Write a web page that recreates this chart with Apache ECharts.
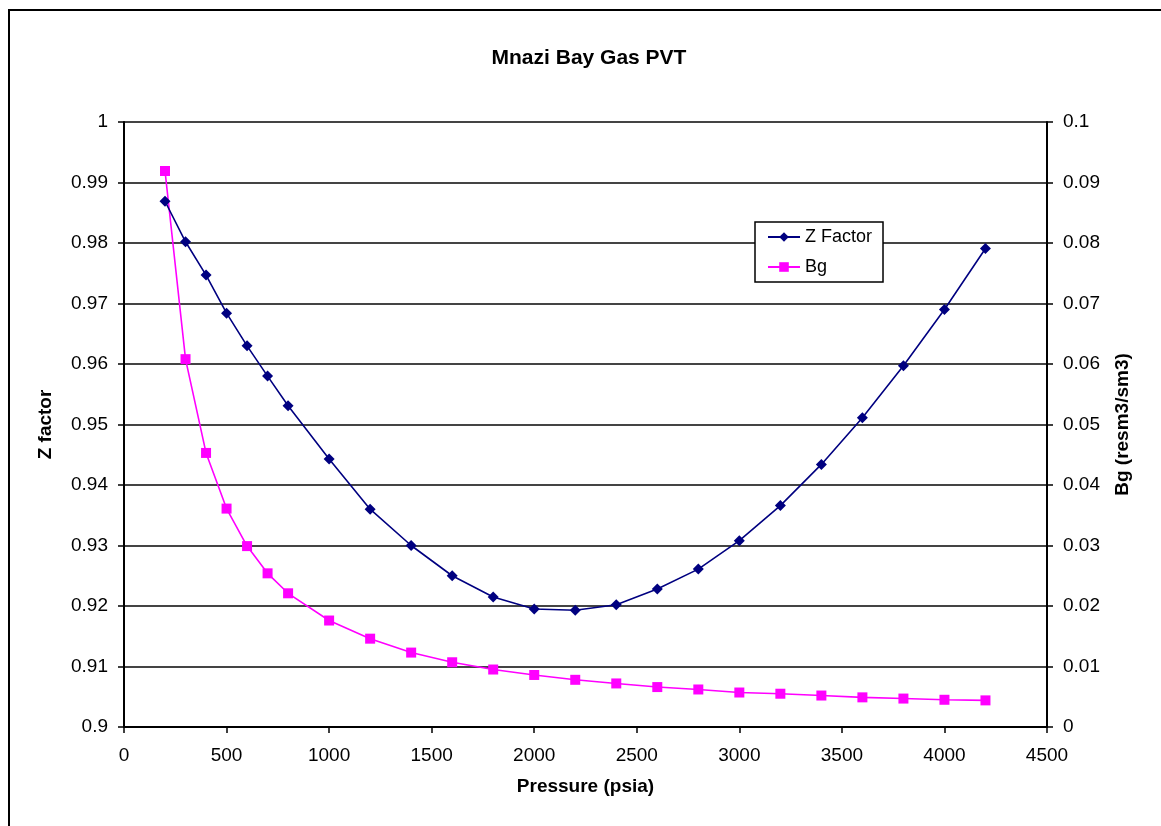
<!DOCTYPE html>
<html>
<head>
<meta charset="utf-8">
<title>Mnazi Bay Gas PVT</title>
<script src="https://cdn.jsdelivr.net/npm/echarts@6/dist/echarts.min.js"></script>
<style>
  html, body { margin: 0; padding: 0; background: #fff; }
  #chart { width: 1161px; height: 826px; }
</style>
</head>
<body>
<div id="chart"></div>
<script>
// Pressure steps (psia)
var pressure = [200, 300, 400, 500, 600, 700, 800, 1000, 1200, 1400, 1600, 1800,
                2000, 2200, 2400, 2600, 2800, 3000, 3200, 3400, 3600, 3800, 4000, 4200];

// Gas compressibility factor
var zFactor = [0.9869, 0.9802, 0.9747, 0.9684, 0.9630, 0.9580, 0.9531, 0.9443,
               0.9360, 0.9300, 0.9250, 0.9215, 0.9195, 0.9193, 0.9202, 0.9228,
               0.9261, 0.9308, 0.9366, 0.9434, 0.9511, 0.9597, 0.9690, 0.9791];

// Gas formation volume factor (resm3/sm3)
var bg = [0.0919, 0.0608, 0.0453, 0.0361, 0.0299, 0.0254, 0.0221, 0.0176,
          0.0146, 0.0123, 0.0107, 0.0095, 0.0086, 0.0078, 0.0072, 0.0066,
          0.0062, 0.0057, 0.0055, 0.0052, 0.0049, 0.0047, 0.0045, 0.0044];

var zPoints = pressure.map(function (p, i) { return [p, zFactor[i]]; });
var bgPoints = pressure.map(function (p, i) { return [p, bg[i]]; });

var font = 'Liberation Sans, Arial, sans-serif';
var tickFont = { fontFamily: font, fontSize: 19, color: '#000' };
var nameFont = { fontFamily: font, fontSize: 19, fontWeight: 'bold', color: '#000' };

function twoDecimals(v) { return String(Math.round(v * 100) / 100); }

var chart = echarts.init(document.getElementById('chart'), null, { renderer: 'canvas' });

chart.setOption({
  backgroundColor: '#ffffff',
  animation: false,
  graphic: [{
    type: 'rect',
    position: [9, 10],
    shape: { x: 0, y: 0, width: 1170, height: 830 },
    style: { fill: 'none', stroke: '#000', lineWidth: 2 },
    silent: true,
    z: -1
  }],
  title: {
    text: 'Mnazi Bay Gas PVT',
    left: 584, top: 43, textAlign: 'center',
    textStyle: { fontFamily: font, fontSize: 21, fontWeight: 'bold', color: '#000' }
  },
  legend: {
    orient: 'vertical',
    left: 755, top: 222,
    padding: [5, 11, 5, 12],
    itemGap: 10,
    itemWidth: 32, itemHeight: 12,
    backgroundColor: '#fff',
    borderColor: '#000', borderWidth: 1.5,
    textStyle: { fontFamily: font, fontSize: 18, color: '#000', lineHeight: 20 },
    data: ['Z Factor', 'Bg']
  },
  grid: { left: 124, right: 114, top: 122, bottom: 99, containLabel: false },
  xAxis: {
    type: 'value', min: 0, max: 4500, interval: 500,
    name: 'Pressure (psia)', nameLocation: 'middle', nameGap: 50,
    nameTextStyle: nameFont,
    axisLine: { onZero: false, lineStyle: { color: '#000', width: 2 } },
    axisTick: { show: true, inside: false, length: 6, lineStyle: { color: '#000', width: 1.5 } },
    axisLabel: Object.assign({ margin: 19, formatter: function (v) { return String(v); } }, tickFont),
    splitLine: { show: false }
  },
  yAxis: [{
    type: 'value', min: 0.9, max: 1, interval: 0.01, position: 'left',
    name: 'Z factor', nameLocation: 'middle', nameGap: 69, nameRotate: 90,
    nameTextStyle: nameFont,
    axisLine: { show: true, lineStyle: { color: '#000', width: 2 } },
    axisTick: { show: true, inside: false, length: 6, lineStyle: { color: '#000', width: 1.5 } },
    axisLabel: Object.assign({ margin: 16, formatter: twoDecimals }, tickFont),
    splitLine: { show: true, lineStyle: { color: '#444', width: 2 } }
  }, {
    type: 'value', min: 0, max: 0.1, interval: 0.01, position: 'right',
    name: 'Bg (resm3/sm3)', nameLocation: 'middle', nameGap: 66, nameRotate: 90,
    nameTextStyle: nameFont,
    axisLine: { show: true, lineStyle: { color: '#000', width: 2 } },
    axisTick: { show: true, inside: false, length: 6, lineStyle: { color: '#000', width: 1.5 } },
    axisLabel: Object.assign({ margin: 16, formatter: twoDecimals }, tickFont),
    splitLine: { show: false }
  }],
  series: [{
    name: 'Z Factor', type: 'line', yAxisIndex: 0,
    data: zPoints,
    symbol: 'diamond', symbolSize: 11,
    itemStyle: { color: '#000080' },
    lineStyle: { color: '#000080', width: 1.6 },
    z: 3
  }, {
    name: 'Bg', type: 'line', yAxisIndex: 1,
    data: bgPoints,
    symbol: 'rect', symbolSize: 10,
    itemStyle: { color: '#ff00ff' },
    lineStyle: { color: '#ff00ff', width: 1.6 },
    z: 2
  }]
});
</script>
</body>
</html>
